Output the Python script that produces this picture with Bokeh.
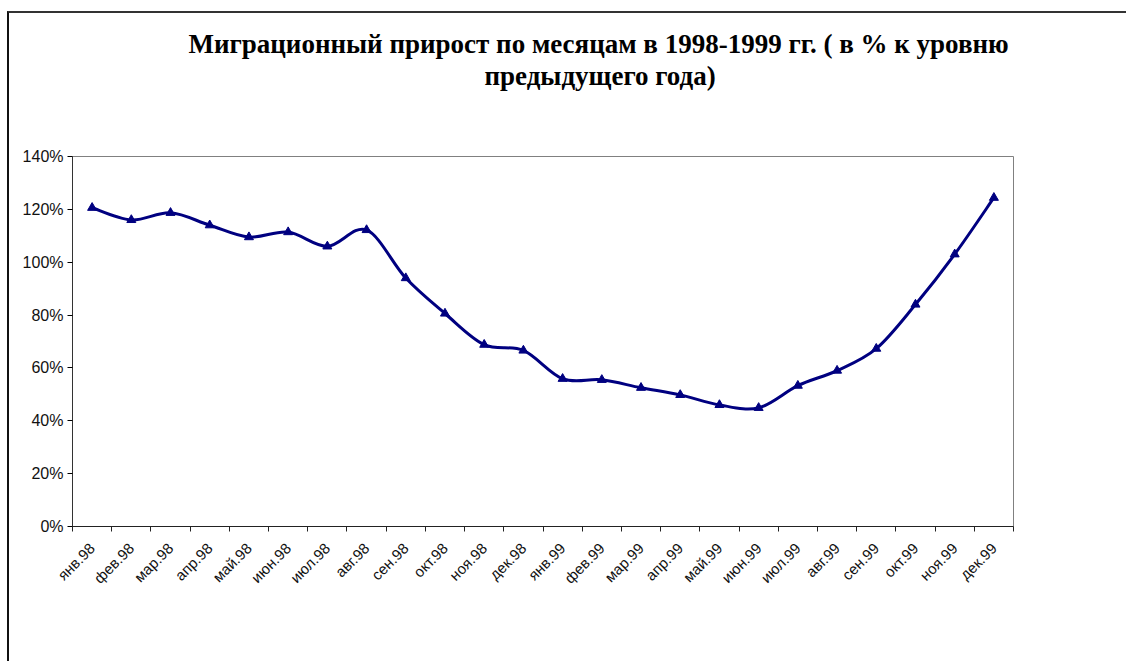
import math
from bokeh.plotting import figure
from bokeh.models import (FixedTicker, CustomJSTickFormatter, PrintfTickFormatter,
                          Range1d, Title, ColumnDataSource)
from bokeh.embed import file_html
from bokeh.resources import INLINE

months = ["янв.98", "фев.98", "мар.98", "апр.98", "май.98", "июн.98",
          "июл.98", "авг.98", "сен.98", "окт.98", "ноя.98", "дек.98",
          "янв.99", "фев.99", "мар.99", "апр.99", "май.99", "июн.99",
          "июл.99", "авг.99", "сен.99", "окт.99", "ноя.99", "дек.99"]
values = [120.6, 116.0, 118.7, 114.0, 109.5, 111.4, 106.0, 112.2,
          94.0, 80.6, 68.8, 66.6, 55.9, 55.5, 52.5, 49.8,
          46.0, 44.9, 53.3, 59.0, 67.3, 84.0, 103.0, 124.4]
y_ticks = [0, 20, 40, 60, 80, 100, 120, 140]
title_lines = ["Миграционный прирост  по месяцам в 1998-1999 гг. ( в % к уровню",
               "предыдущего года)"]

n = len(months)
xs = [i + 0.5 for i in range(n)]

p = figure(width=1119, height=650, output_backend="svg", toolbar_location=None,
           x_range=Range1d(0, n), y_range=Range1d(0, 140),
           min_border_left=63, min_border_right=115, min_border_top=143,
           min_border_bottom=137)
p.margin = (11, 0, 0, 7)
p.styles = {"border-top": "2px solid #333333", "border-left": "2px solid #111111"}
p.background_fill_color = "white"
p.border_fill_color = "white"
p.outline_line_color = "#808080"
p.outline_line_width = 1
p.xgrid.visible = False
p.ygrid.visible = False

# title: p.title is outermost; titles added first sit nearest the frame
title_style = dict(text_font="Liberation Serif", text_font_style="bold",
                   text_font_size="27px", text_color="#000000")
p.title.text = title_lines[0]
p.title.align = "left"
p.title.offset = 116
p.title.standoff = 0
for k, v in title_style.items():
    setattr(p.title, k, v)
# spacer between the title and the plot area
p.add_layout(Title(text=" ", standoff=63, text_font_size="1px"), "above")
p.add_layout(Title(text=title_lines[1], align="left", offset=412, standoff=0,
                   **title_style), "above")

# y axis
p.yaxis.ticker = FixedTicker(ticks=y_ticks)
p.yaxis.formatter = PrintfTickFormatter(format="%d%%")
p.yaxis.major_label_text_font = "Liberation Sans"
p.yaxis.major_label_text_font_size = "16px"
p.yaxis.major_label_text_color = "#111111"
p.yaxis.axis_line_color = "#333333"
p.yaxis.major_tick_out = 5
p.yaxis.major_tick_in = 0
p.yaxis.minor_tick_line_color = None
p.yaxis.major_label_standoff = 4

# x axis
p.xaxis.ticker = FixedTicker(ticks=xs, minor_ticks=list(range(n + 1)))
p.xaxis.formatter = CustomJSTickFormatter(args=dict(labels=months),
                                          code="return labels[Math.floor(tick)] || '';")
p.xaxis.major_label_orientation = math.pi / 4
p.xaxis.major_label_text_font = "Liberation Sans"
p.xaxis.major_label_text_font_size = "15px"
p.xaxis.major_label_text_color = "#111111"
p.xaxis.major_tick_out = 0
p.xaxis.major_tick_in = 0
p.xaxis.minor_tick_out = 5
p.xaxis.minor_tick_in = 0
p.xaxis.minor_tick_line_color = "#222222"
p.xaxis.axis_line_color = "#222222"
p.xaxis.major_label_standoff = 14

# smoothed line (Catmull-Rom bezier through data points)
x0, y0, x1, y1, cx0, cy0, cx1, cy1 = [], [], [], [], [], [], [], []
for i in range(n - 1):
    pm = (xs[max(i - 1, 0)], values[max(i - 1, 0)])
    pa = (xs[i], values[i])
    pb = (xs[i + 1], values[i + 1])
    pn = (xs[min(i + 2, n - 1)], values[min(i + 2, n - 1)])
    x0.append(pa[0]); y0.append(pa[1]); x1.append(pb[0]); y1.append(pb[1])
    cx0.append(pa[0] + (pb[0] - pm[0]) / 6); cy0.append(pa[1] + (pb[1] - pm[1]) / 6)
    cx1.append(pb[0] - (pn[0] - pa[0]) / 6); cy1.append(pb[1] - (pn[1] - pa[1]) / 6)
src = ColumnDataSource(dict(x0=x0, y0=y0, x1=x1, y1=y1, cx0=cx0, cy0=cy0, cx1=cx1, cy1=cy1))
p.bezier(x0="x0", y0="y0", x1="x1", y1="y1", cx0="cx0", cy0="cy0", cx1="cx1", cy1="cy1",
         source=src, line_color="#000080", line_width=3)
p.scatter(xs, values, marker="triangle", size=9, fill_color="#000080", line_color="#000080")

open("out.html", "w").write(file_html(p, INLINE))
